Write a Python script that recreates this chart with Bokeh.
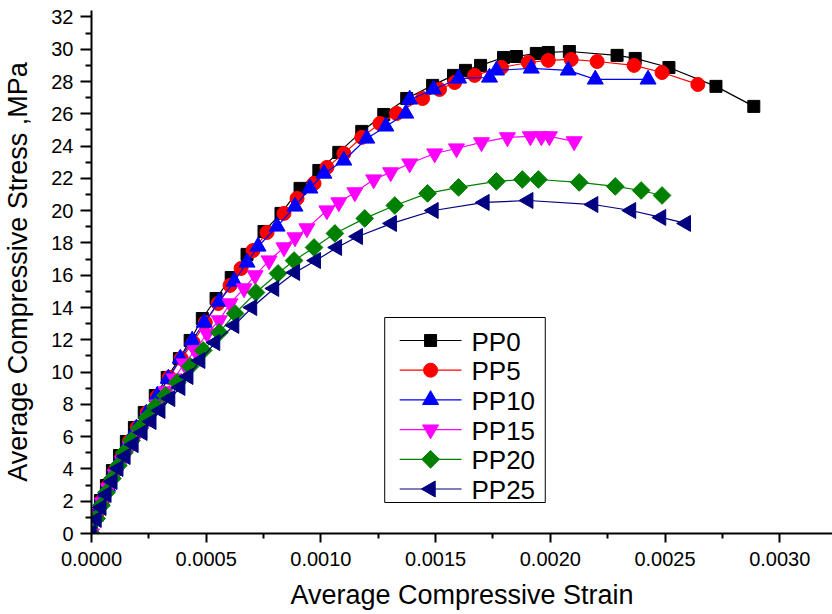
import math
from bokeh.plotting import figure
from bokeh.models import Range1d, FixedTicker
from bokeh.core.properties import value
from bokeh.embed import file_html
from bokeh.resources import INLINE

series_names = ["PP0", "PP5", "PP10", "PP15", "PP20", "PP25"]

pp0_strain = [0, 0.000017, 0.000039, 0.000065, 0.000091, 0.000122, 0.000152, 0.000187, 0.00023, 0.000278,
              0.00033, 0.000383, 0.00043, 0.000483, 0.000543, 0.000609, 0.000678, 0.000752, 0.000826, 0.000909,
              0.000991, 0.001078, 0.001178, 0.001274, 0.001374, 0.001487, 0.001578, 0.00163, 0.001696, 0.001796,
              0.001852, 0.001939, 0.001991, 0.002083, 0.002291, 0.00237, 0.002517, 0.002722, 0.002887]
pp0_stress = [0, 1.12, 2.04, 2.97, 3.90, 4.83, 5.70, 6.57, 7.50, 8.55,
              9.67, 10.84, 11.96, 13.32, 14.56, 15.86, 17.29, 18.71, 19.83, 21.38,
              22.49, 23.61, 24.91, 25.96, 26.95, 27.76, 28.38, 28.69, 29.0, 29.49,
              29.55, 29.74, 29.8, 29.86, 29.62, 29.43, 28.87, 27.7, 26.46]

pp5_strain = [0, 0.000022, 0.000048, 0.000074, 0.000104, 0.000135, 0.000165, 0.0002, 0.000243, 0.000287,
              0.000339, 0.000391, 0.000443, 0.000496, 0.000552, 0.000604, 0.000652, 0.000704, 0.000765, 0.000839,
              0.000896, 0.00097, 0.001026, 0.0011, 0.001178, 0.001257, 0.00133, 0.001443, 0.001517, 0.001583,
              0.00167, 0.001787, 0.001904, 0.001991, 0.002091, 0.002204, 0.002365, 0.002487, 0.002643]
pp5_stress = [0, 1.12, 2.04, 2.97, 3.90, 4.83, 5.70, 6.57, 7.50, 8.49,
              9.67, 10.84, 11.83, 13.07, 14.25, 15.37, 16.42, 17.53, 18.65, 19.83,
              20.76, 21.69, 22.68, 23.54, 24.54, 25.4, 26.02, 26.95, 27.51, 27.94,
              28.38, 28.87, 29.18, 29.31, 29.37, 29.24, 29.0, 28.56, 27.82]

pp10_strain = [0, 0.000017, 0.000043, 0.00007, 0.0001, 0.00013, 0.000161, 0.000196, 0.000239, 0.000287,
               0.000335, 0.000387, 0.000439, 0.000491, 0.000557, 0.000622, 0.000678, 0.000726, 0.000809, 0.000887,
               0.000952, 0.001013, 0.0011, 0.0012, 0.001283, 0.00137, 0.001387, 0.001491, 0.0016, 0.001735,
               0.001765, 0.001917, 0.002078, 0.002196, 0.002426]
pp10_stress = [0, 1.05, 2.04, 2.91, 3.90, 4.77, 5.64, 6.51, 7.43, 8.55,
               9.6, 10.84, 11.96, 13.07, 14.37, 15.61, 16.79, 17.78, 19.02, 20.26,
               21.38, 22.3, 23.11, 24.47, 25.22, 26.02, 26.89, 27.51, 28.19, 28.25,
               28.69, 28.81, 28.69, 28.13, 28.13]

pp15_strain = [0, 0.000022, 0.000048, 0.000074, 0.000104, 0.000135, 0.00017, 0.000204, 0.000248, 0.000287,
               0.000326, 0.000361, 0.000404, 0.000452, 0.000504, 0.000557, 0.000604, 0.000665, 0.000713, 0.000774,
               0.000839, 0.000887, 0.000939, 0.001026, 0.001078, 0.001148, 0.00123, 0.001304, 0.001387, 0.001496,
               0.001591, 0.0017, 0.001813, 0.001913, 0.001961, 0.001996, 0.002104]
pp15_stress = [0, 1.05, 1.92, 2.79, 3.66, 4.52, 5.39, 6.26, 7.13, 7.99,
               8.8, 9.6, 10.53, 11.34, 12.39, 13.2, 14.25, 15.18, 15.99, 16.91,
               17.72, 18.34, 18.9, 20.01, 20.51, 21.13, 21.93, 22.37, 22.92, 23.54,
               23.85, 24.23, 24.54, 24.6, 24.6, 24.6, 24.29]

pp20_strain = [0, 0.000022, 0.000043, 0.000065, 0.000091, 0.000117, 0.000143, 0.000174, 0.000209, 0.000243,
               0.000278, 0.000322, 0.000374, 0.00043, 0.000487, 0.000557, 0.000626, 0.000717, 0.000813, 0.000883,
               0.00097, 0.001061, 0.001191, 0.001322, 0.001465, 0.0016, 0.001765, 0.001878, 0.001948, 0.002126,
               0.002283, 0.002396, 0.002487]
pp20_stress = [0, 0.93, 1.73, 2.54, 3.41, 4.21, 5.02, 5.76, 6.51, 7.19,
               7.87, 8.55, 9.36, 10.35, 11.34, 12.45, 13.63, 14.93, 16.11, 16.91,
               17.72, 18.59, 19.52, 20.32, 21.07, 21.44, 21.81, 21.93, 21.93, 21.75,
               21.5, 21.25, 20.94]

pp25_strain = [0, 0.000022, 0.000043, 0.000065, 0.000091, 0.000117, 0.000148, 0.000183, 0.000222, 0.000261,
               0.0003, 0.000343, 0.000387, 0.000422, 0.000474, 0.000539, 0.000622, 0.0007, 0.000796, 0.000887,
               0.000978, 0.00107, 0.001161, 0.001309, 0.001491, 0.001713, 0.001904, 0.002187, 0.002352, 0.002483,
               0.002591]
pp25_stress = [0, 0.87, 1.61, 2.42, 3.22, 4.03, 4.77, 5.51, 6.26, 6.94,
               7.62, 8.36, 9.05, 9.73, 10.72, 11.83, 12.89, 14.0, 15.18, 16.17,
               16.91, 17.72, 18.4, 19.21, 20.01, 20.51, 20.63, 20.38, 20.01, 19.58,
               19.21]

x_ticks = [0.0, 0.0005, 0.0010, 0.0015, 0.0020, 0.0025, 0.0030]
x_tick_labels = ["0.0000", "0.0005", "0.0010", "0.0015", "0.0020", "0.0025", "0.0030"]
x_minor = [0.00025, 0.00075, 0.00125, 0.00175, 0.00225, 0.00275, 0.00325]
y_ticks = [0, 2, 4, 6, 8, 10, 12, 14, 16, 18, 20, 22, 24, 26, 28, 30, 32]
y_minor = [1, 3, 5, 7, 9, 11, 13, 15, 17, 19, 21, 23, 25, 27, 29, 31]

xs = [pp0_strain, pp5_strain, pp10_strain, pp15_strain, pp20_strain, pp25_strain]
ys = [pp0_stress, pp5_stress, pp10_stress, pp15_stress, pp20_stress, pp25_stress]
colors = ["#000000", "#FF0000", "#0000FF", "#FF00FF", "#008000", "#000080"]
markers = ["square", "circle", "triangle", "inverted_triangle", "square", "triangle"]
sizes = [12, 14, 16, 16, 12.5, 16]
angles = [0, 0, 0, 0, math.pi / 4, math.pi / 2]

FONT = "Liberation Sans"

# layout: frame occupies x 89..832 and y 10..533 of the 832x614 canvas
FRAME_W = 832 - 89
FRAME_H = 614 - 10 - 81

p = figure(width=832, height=614, output_backend="svg", toolbar_location=None,
           x_range=Range1d(0, 0.00323), y_range=Range1d(0, 32.4),
           min_border_left=89, min_border_right=0, min_border_top=10, min_border_bottom=81)
p.grid.visible = False
p.outline_line_color = None
p.background_fill_color = "white"
p.border_fill_color = "white"
# pixel-space ranges used only to place the legend box
p.extra_x_ranges = {"px": Range1d(0, FRAME_W)}
p.extra_y_ranges = {"px": Range1d(0, FRAME_H)}

for i, name in enumerate(series_names):
    p.line(xs[i], ys[i], line_color=colors[i], line_width=1.2)
    p.scatter(xs[i], ys[i], marker=markers[i], size=sizes[i], fill_color=colors[i],
              line_color=colors[i], angle=angles[i])

# legend (drawn by hand so that rotated markers show as in the plot)
LEG_LEFT, LEG_RIGHT, LEG_BOTTOM, LEG_TOP = 294, 455, 31, 216
ROW_TOP, ROW_STEP = 193, 29.7
GLYPH_X0, GLYPH_X1, GLYPH_XC, TEXT_X = 309, 371, 340, 381
row_y = [ROW_TOP - k * ROW_STEP for k in range(len(series_names))]

p.quad(left=[LEG_LEFT], right=[LEG_RIGHT], bottom=[LEG_BOTTOM], top=[LEG_TOP],
       fill_color="white", line_color="black", line_width=1,
       x_range_name="px", y_range_name="px")
p.segment(x0=[GLYPH_X0] * 6, x1=[GLYPH_X1] * 6, y0=row_y, y1=row_y, line_color=colors,
          line_width=1.2, x_range_name="px", y_range_name="px")
p.scatter(x=[GLYPH_XC] * 6, y=row_y, marker=markers, size=sizes, angle=angles,
          fill_color=colors, line_color=colors, x_range_name="px", y_range_name="px")
p.text(x=[TEXT_X] * 6, y=[v - 1 for v in row_y], text=series_names, text_font=value(FONT),
       text_font_size="26px", text_baseline="middle", text_align="left", text_color="black",
       x_range_name="px", y_range_name="px")

xa = p.xaxis[0]
xa.ticker = FixedTicker(ticks=x_ticks, minor_ticks=x_minor)
xa.major_label_overrides = {t: l for t, l in zip(x_ticks, x_tick_labels)}
xa.axis_label = "Average Compressive Strain"
ya = p.yaxis[0]
ya.ticker = FixedTicker(ticks=y_ticks, minor_ticks=y_minor)
ya.axis_label = "Average Compressive Stress ,MPa"

for ax in (xa, ya):
    ax.axis_line_width = 2
    ax.major_tick_line_width = 2
    ax.minor_tick_line_width = 2
    ax.major_tick_in = 0
    ax.minor_tick_in = 0
    ax.major_label_text_font = FONT
    ax.axis_label_text_font = FONT
    ax.axis_label_text_font_style = "normal"
    ax.major_label_text_color = "black"
    ax.axis_label_text_color = "black"

xa.major_tick_out = 9
xa.minor_tick_out = 5
xa.major_label_text_font_size = "20px"
xa.major_label_standoff = 9
xa.axis_label_text_font_size = "27px"
xa.axis_label_standoff = 11

ya.major_tick_out = 11
ya.minor_tick_out = 6
ya.major_label_text_font_size = "20px"
ya.major_label_standoff = 7
ya.axis_label_text_font_size = "27px"
ya.axis_label_standoff = 15

open("out.html", "w").write(file_html(p, INLINE))
